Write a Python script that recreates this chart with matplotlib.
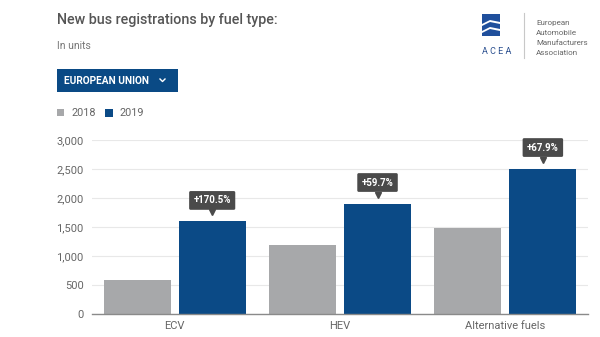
import matplotlib.pyplot as plt
from matplotlib.patches import Polygon, FancyBboxPatch
from matplotlib.transforms import offset_copy
import numpy as np

plt.rcParams['font.family'] = ['Roboto', 'DejaVu Sans']

# chart data
categories = ["ECV", "HEV", "Alternative fuels"]
units_2018 = [590, 1190, 1490]
units_2019 = [1596, 1905, 2508]
growth_labels = ["+170.5%", "+59.7%", "+67.9%"]
yticks = [0, 500, 1000, 1500, 2000, 2500, 3000]

grey = "#a7a8aa"
blue = "#0b4a86"
dark = "#4a4a4a"

fig = plt.figure(figsize=(6, 3.37), dpi=100)
fig.patch.set_facecolor("white")

# main bar chart
ax = fig.add_axes([92 / 600, 1 - 314 / 337, 496 / 600, 174 / 337])
x = np.arange(len(categories))
ax.bar(x - 0.227, units_2018, width=0.406, color=grey, zorder=3)
ax.bar(x + 0.227, units_2019, width=0.406, color=blue, zorder=3)

ax.set_xlim(-0.5, 2.5)
ax.set_ylim(0, 3000)
ax.set_yticks(yticks)
ax.set_yticklabels([f"{v:,}" for v in yticks])
ax.set_xticks(x)
ax.set_xticklabels(categories)
ax.tick_params(axis="both", length=0, labelsize=8, labelcolor="#666666")
ax.tick_params(axis="y", pad=6)
ax.tick_params(axis="x", pad=5)
ax.grid(axis="y", color="#e8e8e8", linewidth=0.8, zorder=0)
for s in ["top", "right", "left"]:
    ax.spines[s].set_visible(False)
ax.spines["bottom"].set_color("#8a8a8a")
ax.spines["bottom"].set_linewidth(1.0)
ax.spines["bottom"].set_zorder(4)

# growth tooltips above 2019 bars
for xi, v, lab in zip(x + 0.227, units_2019, growth_labels):
    ax.plot([xi], [v], marker="v", markersize=4.5, color=dark,
            transform=offset_copy(ax.transData, fig=fig, x=0, y=9, units="dots"),
            clip_on=False, zorder=5)
    ax.text(xi, v, lab, transform=offset_copy(ax.transData, fig=fig, x=0, y=21, units="dots"),
            ha="center", va="center", fontsize=7, fontweight="bold", color="white",
            bbox=dict(boxstyle="round,pad=0.45,rounding_size=0.15", fc=dark, ec="none"),
            clip_on=False, zorder=6)

# header overlay in pixel coordinates
hd = fig.add_axes([0, 0, 1, 1], zorder=10)
hd.set_xlim(0, 600)
hd.set_ylim(337, 0)
hd.axis("off")
hd.patch.set_alpha(0)

hd.text(57, 20, "New bus registrations by fuel type:", fontsize=10.3, color="#555555",
        fontweight="medium", va="center", ha="left")
hd.text(57, 46, "In units", fontsize=7.5, color="#777777", va="center", ha="left")

hd.add_patch(FancyBboxPatch((57, 69), 121, 23, boxstyle="square,pad=0", fc="#0a4a85", ec="none"))
hd.text(64, 80.5, "EUROPEAN UNION", fontsize=7.3, fontweight="bold", color="white",
        va="center", ha="left")
hd.plot([160, 162.5, 165], [79, 81.5, 79], color="white", linewidth=1.0)

hd.add_patch(FancyBboxPatch((57, 109), 7, 7, boxstyle="square,pad=0", fc=grey, ec="none"))
hd.text(72, 113, "2018", fontsize=7.8, color="#666666", va="center", ha="left")
hd.add_patch(FancyBboxPatch((105, 109), 7.5, 7.5, boxstyle="square,pad=0", fc=blue, ec="none"))
hd.text(120, 113, "2019", fontsize=7.8, color="#666666", va="center", ha="left")

# ACEA logo
logo_blue = "#1f4f9c"
hd.add_patch(Polygon([(482, 14), (500, 14), (500, 22), (490, 20), (482, 24)], fc=logo_blue, ec="none"))
hd.add_patch(Polygon([(482, 26), (490, 22), (500, 24), (500, 29), (490, 27), (482, 31)], fc=logo_blue, ec="none"))
hd.add_patch(Polygon([(482, 33), (490, 29), (500, 31), (500, 36), (482, 36)], fc=logo_blue, ec="none"))
hd.text(497, 52, "A C E A", fontsize=6.5, color="#2a4f8f", va="center", ha="center")
hd.plot([524, 524], [13, 58], color="#c8c8c8", linewidth=0.8)
for i, w in enumerate(["European", "Automobile", "Manufacturers", "Association"]):
    hd.text(536, 23 + i * 10, w, fontsize=5.8, color="#666666", va="center", ha="left")

fig.savefig("out.png", dpi=100)
